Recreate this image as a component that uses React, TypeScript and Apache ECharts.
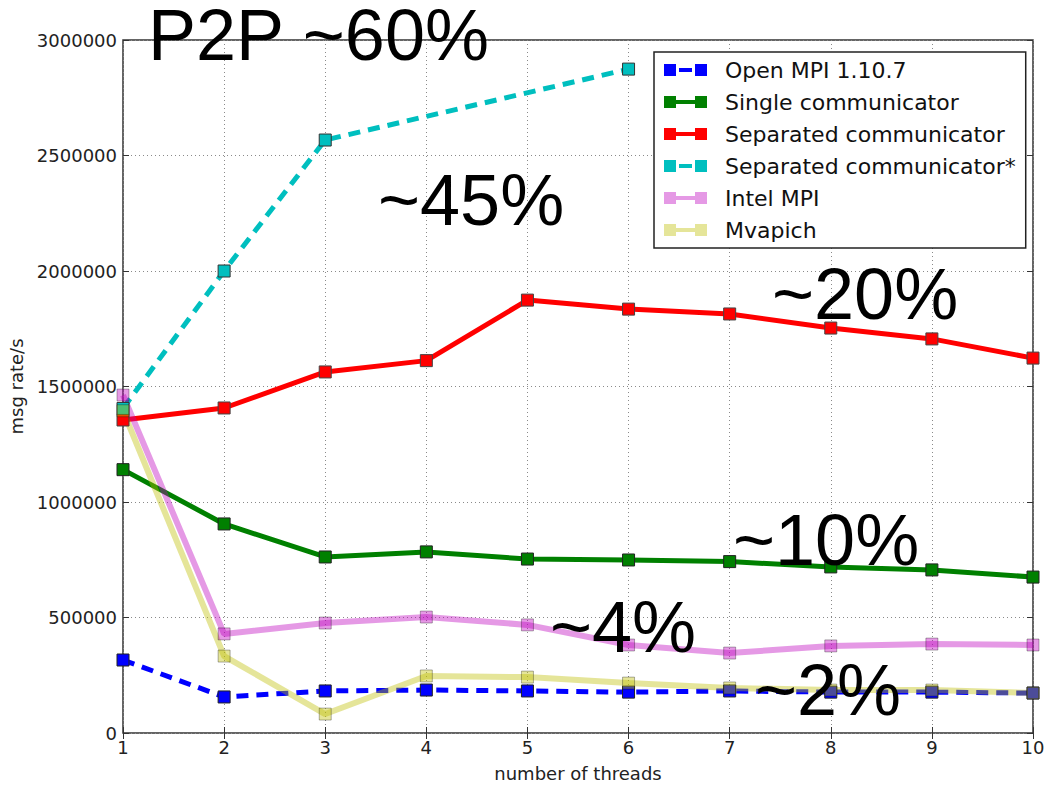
import React, { useEffect, useRef } from "react";
import * as echarts from "echarts";

const threads = [1, 2, 3, 4, 5, 6, 7, 8, 9, 10];
const yTicks = [0, 500000, 1000000, 1500000, 2000000, 2500000, 3000000];

const openMpi = [316000, 156000, 182000, 186000, 182000, 177000, 182000, 177000, 177000, 173000];
const singleComm = [1140000, 905000, 762000, 784000, 753000, 749000, 742000, 719000, 706000, 675000];
const separatedComm = [1355000, 1407000, 1563000, 1612000, 1874000, 1835000, 1814000, 1753000, 1706000, 1623000];
const separatedCommStar: (number | null)[] = [1405000, 2000000, 2567000, null, null, 2874000, null, null, null, null];
const intelMpi = [1463000, 429000, 476000, 502000, 468000, 381000, 346000, 377000, 385000, 381000];
const mvapich = [1395000, 333000, 82000, 247000, 242000, 216000, 195000, 186000, 186000, 173000];

const seriesNames = [
  "Open MPI 1.10.7",
  "Single communicator",
  "Separated communicator",
  "Separated communicator*",
  "Intel MPI",
  "Mvapich",
];

const annotations = ["P2P ~60%", "~45%", "~20%", "~10%", "~4%", "~2%"];

const SOLID_ICON = "path://M0,0H12V12H0Z M12,4H31V8H12Z M31,0H43V12H31Z";
const DASH_ICON = "path://M0,0H12V12H0Z M15,4H28V8H15Z M31,0H43V12H31Z";

const pairs = (vals: (number | null)[]) => threads.map((t, i) => [t, vals[i]]);

export default function App() {
  const ref = useRef<HTMLDivElement>(null);
  useEffect(() => {
    if (!ref.current) return;
    const chart = echarts.init(ref.current, undefined, { renderer: "svg" });
    const font = "DejaVu Sans";
    const mkSeries = (
      name: string,
      vals: (number | null)[],
      color: string,
      border: string,
      dashed: boolean,
      width: number
    ) => ({
      name,
      type: "line",
      data: pairs(vals),
      connectNulls: true,
      symbol: "rect",
      symbolSize: 12,
      showSymbol: true,
      lineStyle: { color, width, type: dashed ? [12, 8] : "solid" },
      itemStyle: { color, borderColor: border, borderWidth: 1 },
      emphasis: { disabled: true },
    });
    const splitLine = { show: true, lineStyle: { color: "#8a8a8a", width: 1, type: [1, 3] } };
    const tickStyle = { show: true, inside: true, length: 6, lineStyle: { color: "#333" } };
    const annPos = [
      [148, 35],
      [378, 200],
      [772, 294],
      [733, 540],
      [550, 627],
      [755, 690],
    ];
    chart.setOption({
      animation: false,
      backgroundColor: "#fff",
      grid: {
        left: 123,
        right: 11,
        top: 40,
        bottom: 55,
        show: true,
        borderColor: "#333",
        borderWidth: 1.5,
        backgroundColor: "transparent",
        containLabel: false,
        outerBoundsMode: "none",
      },
      xAxis: [
        {
          type: "value",
          min: 1,
          max: 10,
          interval: 1,
          name: "number of threads",
          nameLocation: "middle",
          nameGap: 31,
          nameTextStyle: { fontFamily: font, fontSize: 18, color: "#222" },
          axisLine: { show: false },
          axisTick: tickStyle,
          axisLabel: { fontFamily: font, fontSize: 18, color: "#222", margin: 5 },
          splitLine,
        },
        {
          type: "value",
          position: "top",
          min: 1,
          max: 10,
          interval: 1,
          axisLine: { show: false },
          axisTick: tickStyle,
          axisLabel: { show: false },
          splitLine: { show: false },
        },
      ],
      yAxis: [
        {
          type: "value",
          min: yTicks[0],
          max: yTicks[yTicks.length - 1],
          interval: yTicks[1] - yTicks[0],
          name: "msg rate/s",
          nameLocation: "middle",
          nameGap: 96,
          nameTextStyle: { fontFamily: font, fontSize: 18, color: "#222" },
          axisLine: { show: false },
          axisTick: tickStyle,
          axisLabel: {
            fontFamily: font,
            fontSize: 18,
            color: "#222",
            margin: 6,
            formatter: (v: number) => String(v),
          },
          splitLine,
        },
        {
          type: "value",
          position: "right",
          min: yTicks[0],
          max: yTicks[yTicks.length - 1],
          interval: yTicks[1] - yTicks[0],
          axisLine: { show: false },
          axisTick: tickStyle,
          axisLabel: { show: false },
          splitLine: { show: false },
        },
      ],
      legend: {
        orient: "vertical",
        left: 654,
        top: 52,
        padding: [7, 10, 7, 10],
        itemWidth: 43,
        itemHeight: 12,
        itemGap: 10,
        backgroundColor: "#fff",
        borderColor: "#222",
        borderWidth: 1.5,
        borderRadius: 0,
        z: 20,
        itemStyle: { borderWidth: 0 },
        textStyle: {
          fontFamily: font,
          fontSize: 22,
          color: "#111",
          lineHeight: 22,
          padding: [0, 0, 0, 13],
        },
        data: seriesNames.map((n, i) => ({
          name: n,
          icon: i === 0 || i === 3 ? DASH_ICON : SOLID_ICON,
        })),
      },
      series: [
        mkSeries(seriesNames[0], openMpi, "#0000ff", "#222", true, 5),
        mkSeries(seriesNames[1], singleComm, "#008000", "#222", false, 5),
        mkSeries(seriesNames[2], separatedComm, "#ff0000", "#444", false, 5),
        mkSeries(seriesNames[3], separatedCommStar, "#00bfbf", "#333", true, 5),
        mkSeries(seriesNames[4], intelMpi, "rgba(191,0,191,0.4)", "rgba(0,0,0,0.3)", false, 6),
        mkSeries(seriesNames[5], mvapich, "rgba(191,191,0,0.4)", "rgba(0,0,0,0.3)", false, 6),
      ],
      graphic: annotations.map((t, i) => ({
        type: "text",
        x: annPos[i][0],
        y: annPos[i][1],
        z: 100,
        style: {
          text: t,
          fontFamily: "Liberation Sans, Arial",
          fontSize: 72,
          lineHeight: 70,
          fill: "#000",
          verticalAlign: "middle",
          align: "left",
        },
      })),
    });
    return () => chart.dispose();
  }, []);
  return (
    <div
      ref={ref}
      style={{ position: "fixed", left: 0, top: 0, width: 1044, height: 788 }}
    />
  );
}
